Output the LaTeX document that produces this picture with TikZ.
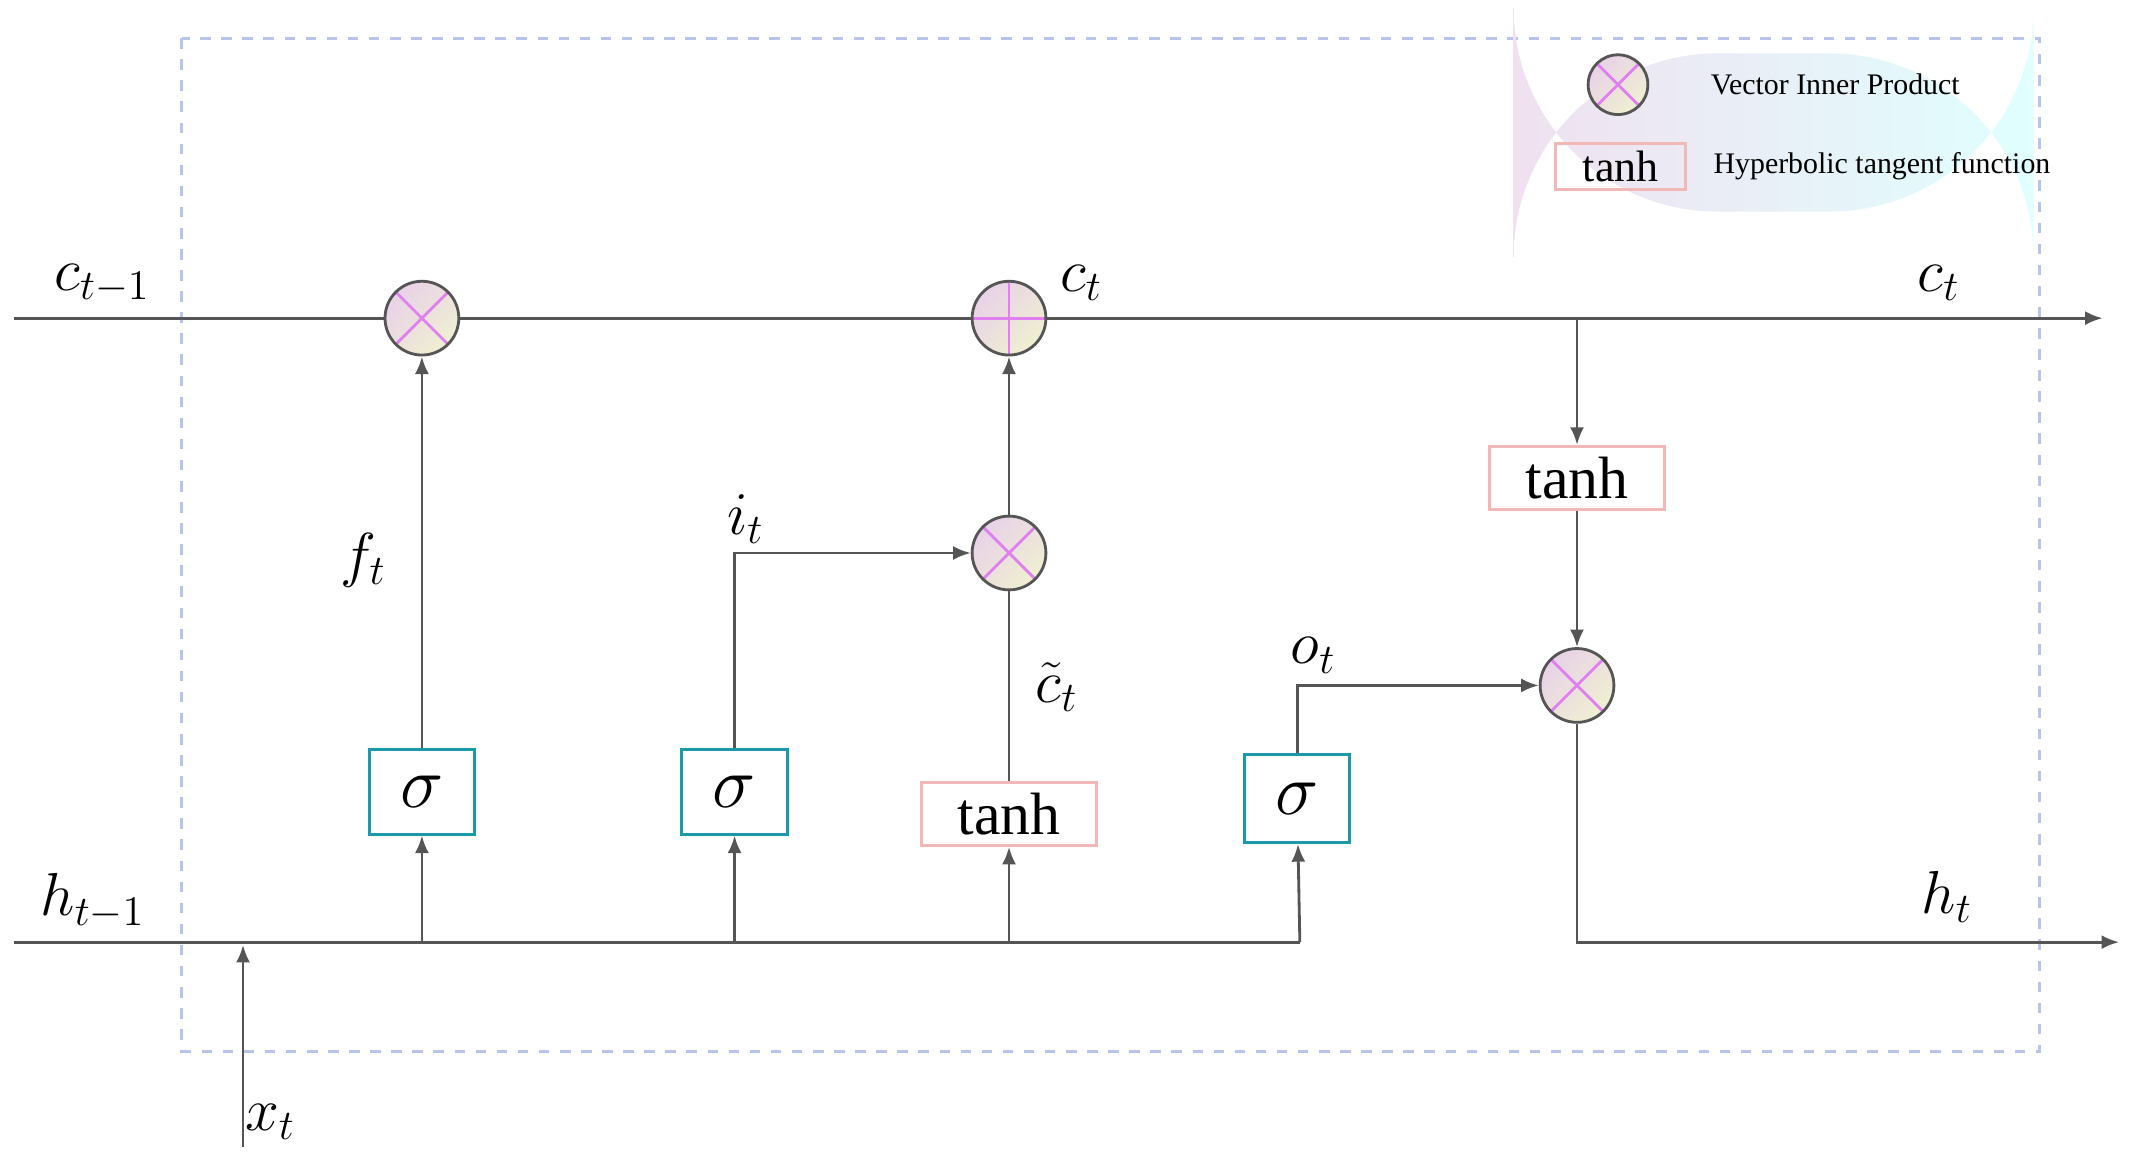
\documentclass[tikz,border=0pt]{standalone}
\usepackage{fontspec}
\setmainfont{Liberation Serif}
\usetikzlibrary{positioning, arrows.meta, calc}
\definecolor{linegray}{HTML}{555555}
\definecolor{sigteal}{HTML}{1A9AA8}
\definecolor{tanhpink}{HTML}{F2B8B8}
\definecolor{crossmag}{HTML}{E080F0}
\definecolor{boxblue}{HTML}{B8C4EC}
\tikzset{
  op/.style={circle, draw=linegray, thick, minimum size=21pt, inner sep=0pt,
    left color=violet!18, right color=olive!12, shading angle=45},
  mul/.style={op, path picture={
      \draw[crossmag, thick] (path picture bounding box.north west) -- (path picture bounding box.south east);
      \draw[crossmag, thick] (path picture bounding box.north east) -- (path picture bounding box.south west);}},
  add/.style={op, path picture={
      \draw[crossmag, thick] (path picture bounding box.north) -- (path picture bounding box.south);
      \draw[crossmag, thick] (path picture bounding box.east) -- (path picture bounding box.west);}},
  sig/.style={draw=sigteal, thick, minimum width=30pt, minimum height=24pt, inner sep=0pt,
    font=\fontsize{20}{20}\selectfont},
  th/.style={draw=tanhpink, thick, minimum width=50pt, minimum height=18pt, inner sep=0pt,
    font=\fontsize{17}{17}\selectfont},
  wire/.style={draw=linegray, thick},
  arr/.style={wire, -{Latex[length=5pt, width=4pt]}},
  lbl/.style={font=\fontsize{17}{17}\selectfont}
}
\begin{document}
\begin{tikzpicture}[x=0.01365cm, y=-0.01365cm]
      \useasboundingbox (0,0) rectangle (1560,850);%
      % frame and legend
      \draw [boxblue, dashed, thick] (133,28) rectangle (1494,770);%
      \node [rounded corners=58pt, minimum width=148pt, minimum height=45pt,
      left color=violet!12, right color=cyan!12] (Leg) at (1299,97) {};%
      \node [mul, minimum size=17pt] (LegMul) at (1185,62) {};%
      \node [right=14pt of LegMul, font=\fontsize{8.5}{9}\selectfont] (LegMulTxt)
      {Vector Inner Product};%
      \node [th, minimum width=37pt, minimum height=13pt, font=\fontsize{12.5}{12}\selectfont]
      (LegTh) at (1187,122) {tanh};%
      \node [right=4pt of LegTh, font=\fontsize{8.5}{9}\selectfont] (LegThTxt)
      {Hyperbolic tangent function};%

      % operators
      \node [mul] (Mf) at (309,233) {};%
      \node [add] (Ac) at (739,233) {};%
      \node [mul] (Mi) at (739,405) {};%
      \node [mul] (Mo) at (1155,502) {};%
      % gates
      \node [sig] (Sf) at (309,580) {$\sigma$};%
      \node [sig] (Si) at (538,580) {$\sigma$};%
      \node [sig, minimum height=25pt] (So) at (950,585) {$\sigma$};%
      \node [th] (Tc) at (739,596) {tanh};%
      \node [th] (Th) at (1155,350) {tanh};%

      % ends of lines
      \coordinate (Cin) at (10,233);%
      \coordinate (Cout) at (1540,233);%
      \coordinate (Hin) at (10,690);%
      \coordinate (Hend) at (952,690);%
      \coordinate (Hout) at (1552,690);%
      \coordinate (Xin) at (178,840);%
      \coordinate (Xj) at (178,692);%

      % lines
      \draw [wire] (Cin) -- (Mf) -- (Ac);%
      \draw [arr] (Ac) -- (Cout);%
      \draw [wire] (Hin) -- (Hend);%
      \draw [arr] (Xin) -- (Xj);%
      \draw [arr] (Sf.south |- Hin) -- (Sf);%
      \draw [arr] (Sf) -- (Mf);%
      \draw [arr] (Si.south |- Hin) -- (Si);%
      \draw [arr] (Si.north) |- (Mi);%
      \draw [arr] (Tc.south |- Hin) -- (Tc);%
      \draw [wire] (Tc) -- (Mi);%
      \draw [arr] (Mi) -- (Ac);%
      \draw [arr] (Hend) -- (So);%
      \draw [arr] (So.north) |- (Mo);%
      \draw [arr] (Th.north |- Cout) -- (Th);%
      \draw [arr] (Th) -- (Mo);%
      \draw [arr] (Mo.south) |- (Hout);%

      % labels
      \node [lbl] (Lc0) at (75,208) {$c_{t-1}$};%
      \node [lbl] (Lc1) at (792,207) {$c_t$};%
      \node [lbl] (Lc2) at (1420,207) {$c_t$};%
      \node [lbl] (Lf) at (266,410) {$f_t$};%
      \node [lbl] (Li) at (546,380) {$i_t$};%
      \node [lbl] (Lct) at (774,503) {$\tilde{c}_t$};%
      \node [lbl] (Lo) at (962,480) {$o_t$};%
      \node [lbl] (Lh0) at (68,660) {$h_{t-1}$};%
      \node [lbl] (Lh1) at (1426,657) {$h_t$};%
      \node [lbl] (Lx) at (198,822) {$x_t$};%
\end{tikzpicture}
\end{document}
